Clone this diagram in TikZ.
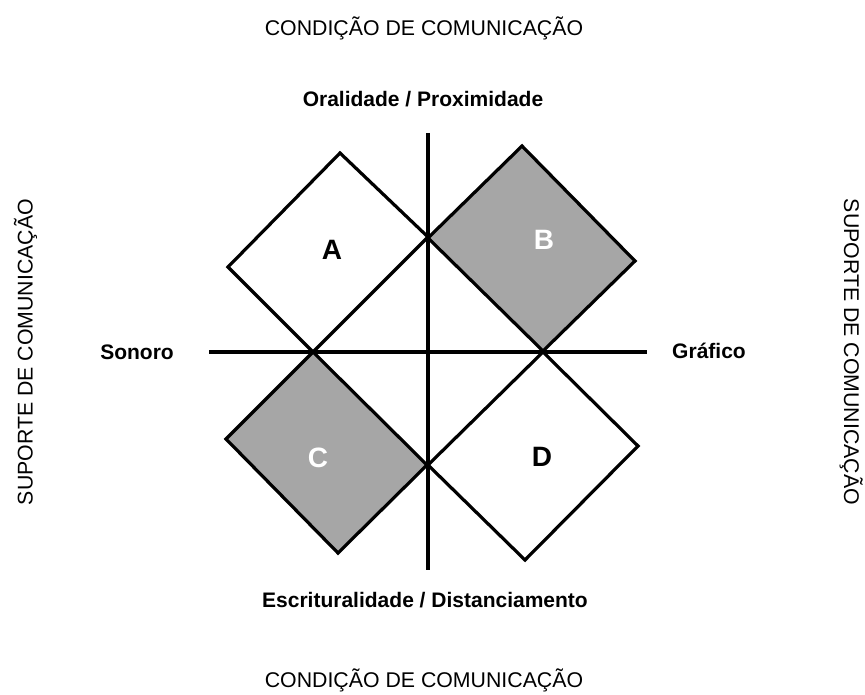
\documentclass[tikz,border=0pt]{standalone}
\usepackage{fontspec}
\setmainfont{Liberation Sans}
\definecolor{qgrey}{RGB}{166,166,166}
\begin{document}
\begin{tikzpicture}[x=1pt,y=-1pt,
  titletext/.style={font=\fontsize{21.3}{25}\selectfont, anchor=base, inner sep=0pt},
  axislabel/.style={font=\bfseries\fontsize{21}{25}\selectfont, anchor=base, inner sep=0pt},
  quad/.style={draw=black, line width=3.2pt, line join=miter, fill=white},
  greyquad/.style={quad, fill=qgrey},
  axisline/.style={draw=black, line width=4.5pt},
  letter/.style={font=\bfseries\fontsize{28}{30}\selectfont, inner sep=0pt}]
\useasboundingbox (0,0) rectangle (865,695);

% quadrilaterals
\draw[quad] (340,153) -- (428,237) -- (313,352) -- (228,267) -- cycle;
\draw[greyquad] (428,238) -- (522,146) -- (635,261) -- (543,351) -- cycle;
\draw[greyquad] (313,352) -- (427,465) -- (338,553) -- (226,439) -- cycle;
\draw[quad] (428,465) -- (543,352) -- (638,446) -- (525,560) -- cycle;

\node[letter] (la) at (332,250) {A};
\node[letter, text=white] (lb) at (544,240) {B};
\node[letter, text=white] (lc) at (318,458) {C};
\node[letter] (ld) at (542,457) {D};

% axes
\coordinate (vt) at (428,133);
\coordinate (vb) at (428,570);
\coordinate (hl) at (209,352);
\coordinate (hr) at (647,352);
\draw[axisline] (vt) -- (vb);
\draw[axisline] (hl) -- (hr);

% labels
\node[titletext] (ttop) at (424,36) {CONDIÇÃO DE COMUNICAÇÃO};
\node[titletext] (tbot) at (424,687) {CONDIÇÃO DE COMUNICAÇÃO};
\node[axislabel] (oral) at (423,107) {Oralidade / Proximidade};
\node[axislabel] (escr) at (425,607) {Escrituralidade / Distanciamento};
\node[axislabel] (son) at (137,359) {Sonoro};
\node[axislabel] (graf) at (709,358) {Gráfico};
\node[titletext, rotate=90] (sleft) at (32.5,352) {SUPORTE DE COMUNICAÇÃO};
\node[titletext, rotate=-90] (sright) at (844,352) {SUPORTE DE COMUNICAÇÃO};
\end{tikzpicture}
\end{document}
